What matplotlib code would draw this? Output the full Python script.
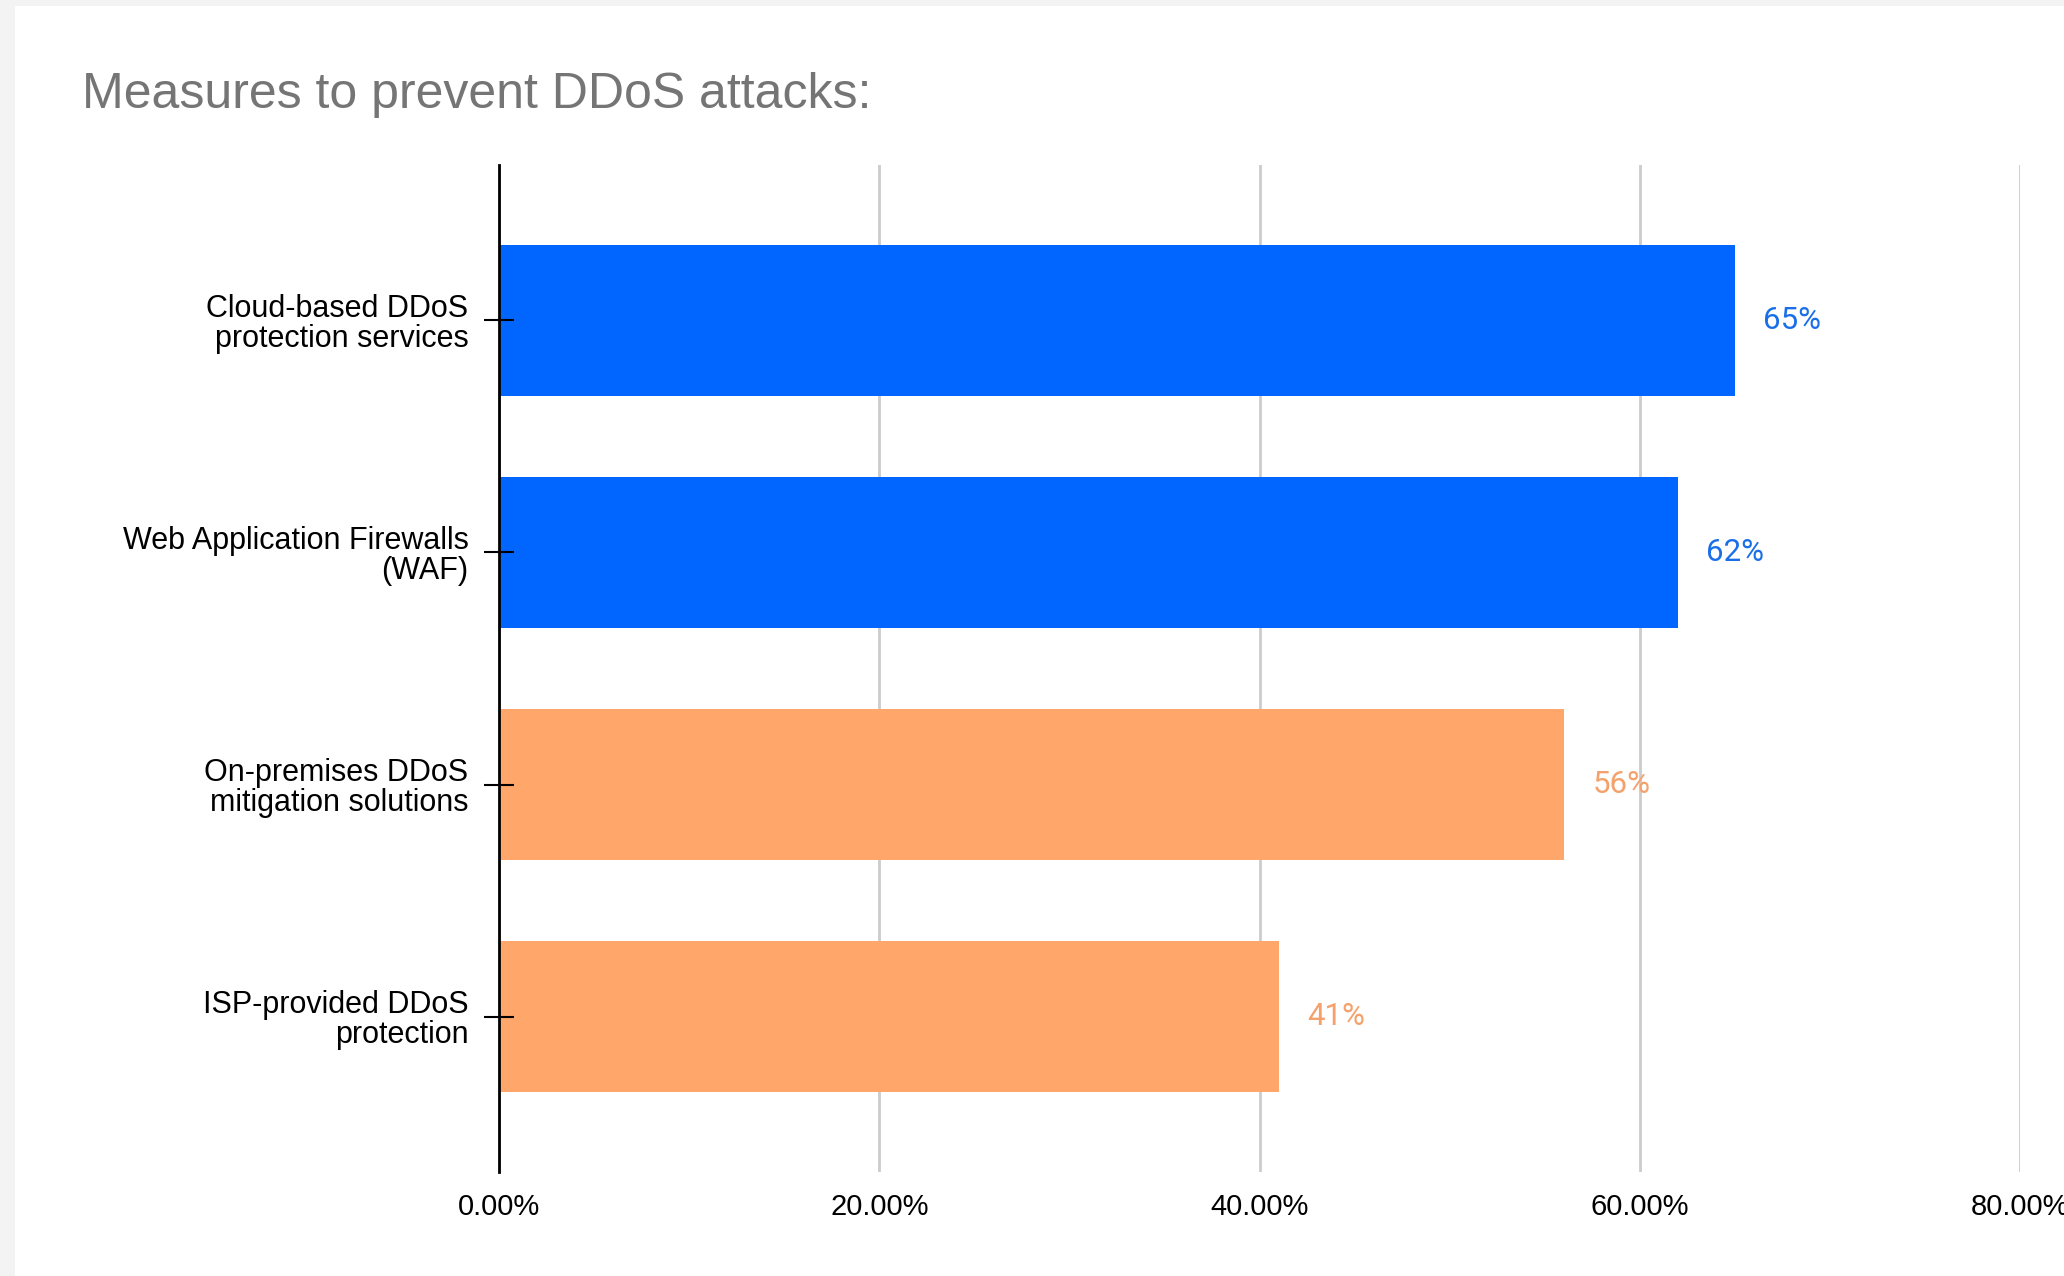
import matplotlib.pyplot as plt
from matplotlib.patches import Rectangle
from matplotlib.ticker import FuncFormatter

# Data
measures = [
    "Cloud-based DDoS\nprotection services",
    "Web Application Firewalls\n(WAF)",
    "On-premises DDoS\nmitigation solutions",
    "ISP-provided DDoS\nprotection",
]
shares = [65, 62, 56, 41]
bar_colors = ["#0066FF", "#0066FF", "#FFA66B", "#FFA66B"]
label_colors = ["#1A6FE8", "#1A6FE8", "#F4A16C", "#F4A16C"]
x_ticks = [0, 20, 40, 60, 80]

plt.rcParams['font.family'] = ['Liberation Sans', 'DejaVu Sans']

fig = plt.figure(figsize=(20.64, 12.76), dpi=100)
fig.patch.set_facecolor("#f3f3f3")
# white card behind the chart
card = Rectangle((15 / 2064, 0), 1, 1 - 6 / 1276, transform=fig.transFigure,
                 facecolor="white", edgecolor="none", zorder=-10)
fig.add_artist(card)

ax = fig.add_axes([499 / 2064, 1 - 1172 / 1276, 1521 / 2064, 1007 / 1276])
ax.set_zorder(2)
ax.set_facecolor("none")

ypos = list(range(len(measures)))
ax.barh(ypos, shares, height=0.65, color=bar_colors, zorder=3)

for y, v, c in zip(ypos, shares, label_colors):
    ax.text(v + 1.5, y, f"{v}%", va="center", ha="left", fontsize=22.5,
            color=c, family=["Roboto", "DejaVu Sans"], zorder=4)

ax.set_xlim(0, 80)
ax.set_ylim(3.67, -0.67)
ax.set_xticks(x_ticks)
ax.xaxis.set_major_formatter(FuncFormatter(lambda v, p: f"{v:.2f}%"))
ax.set_yticks(ypos)
ax.set_yticklabels(measures, fontsize=22, linespacing=1.0)

ax.grid(axis="x", color="#cccccc", linewidth=2)
ax.set_axisbelow(True)
ax.yaxis.set_zorder(5)  # y ticks drawn over the bars
ax.tick_params(axis="x", length=0, labelsize=21, pad=15, colors="black")
ax.tick_params(axis="y", direction="inout", length=22, width=1.5, pad=11)

for s in ["top", "right", "bottom"]:
    ax.spines[s].set_visible(False)
ax.spines["left"].set_linewidth(2)
ax.spines["left"].set_zorder(5)

fig.text(82 / 2064, 1 - 95 / 1276, "Measures to prevent DDoS attacks:",
         fontsize=36, color="#757575", va="center", ha="left")

fig.savefig("out.png", dpi=100, facecolor=fig.get_facecolor())
